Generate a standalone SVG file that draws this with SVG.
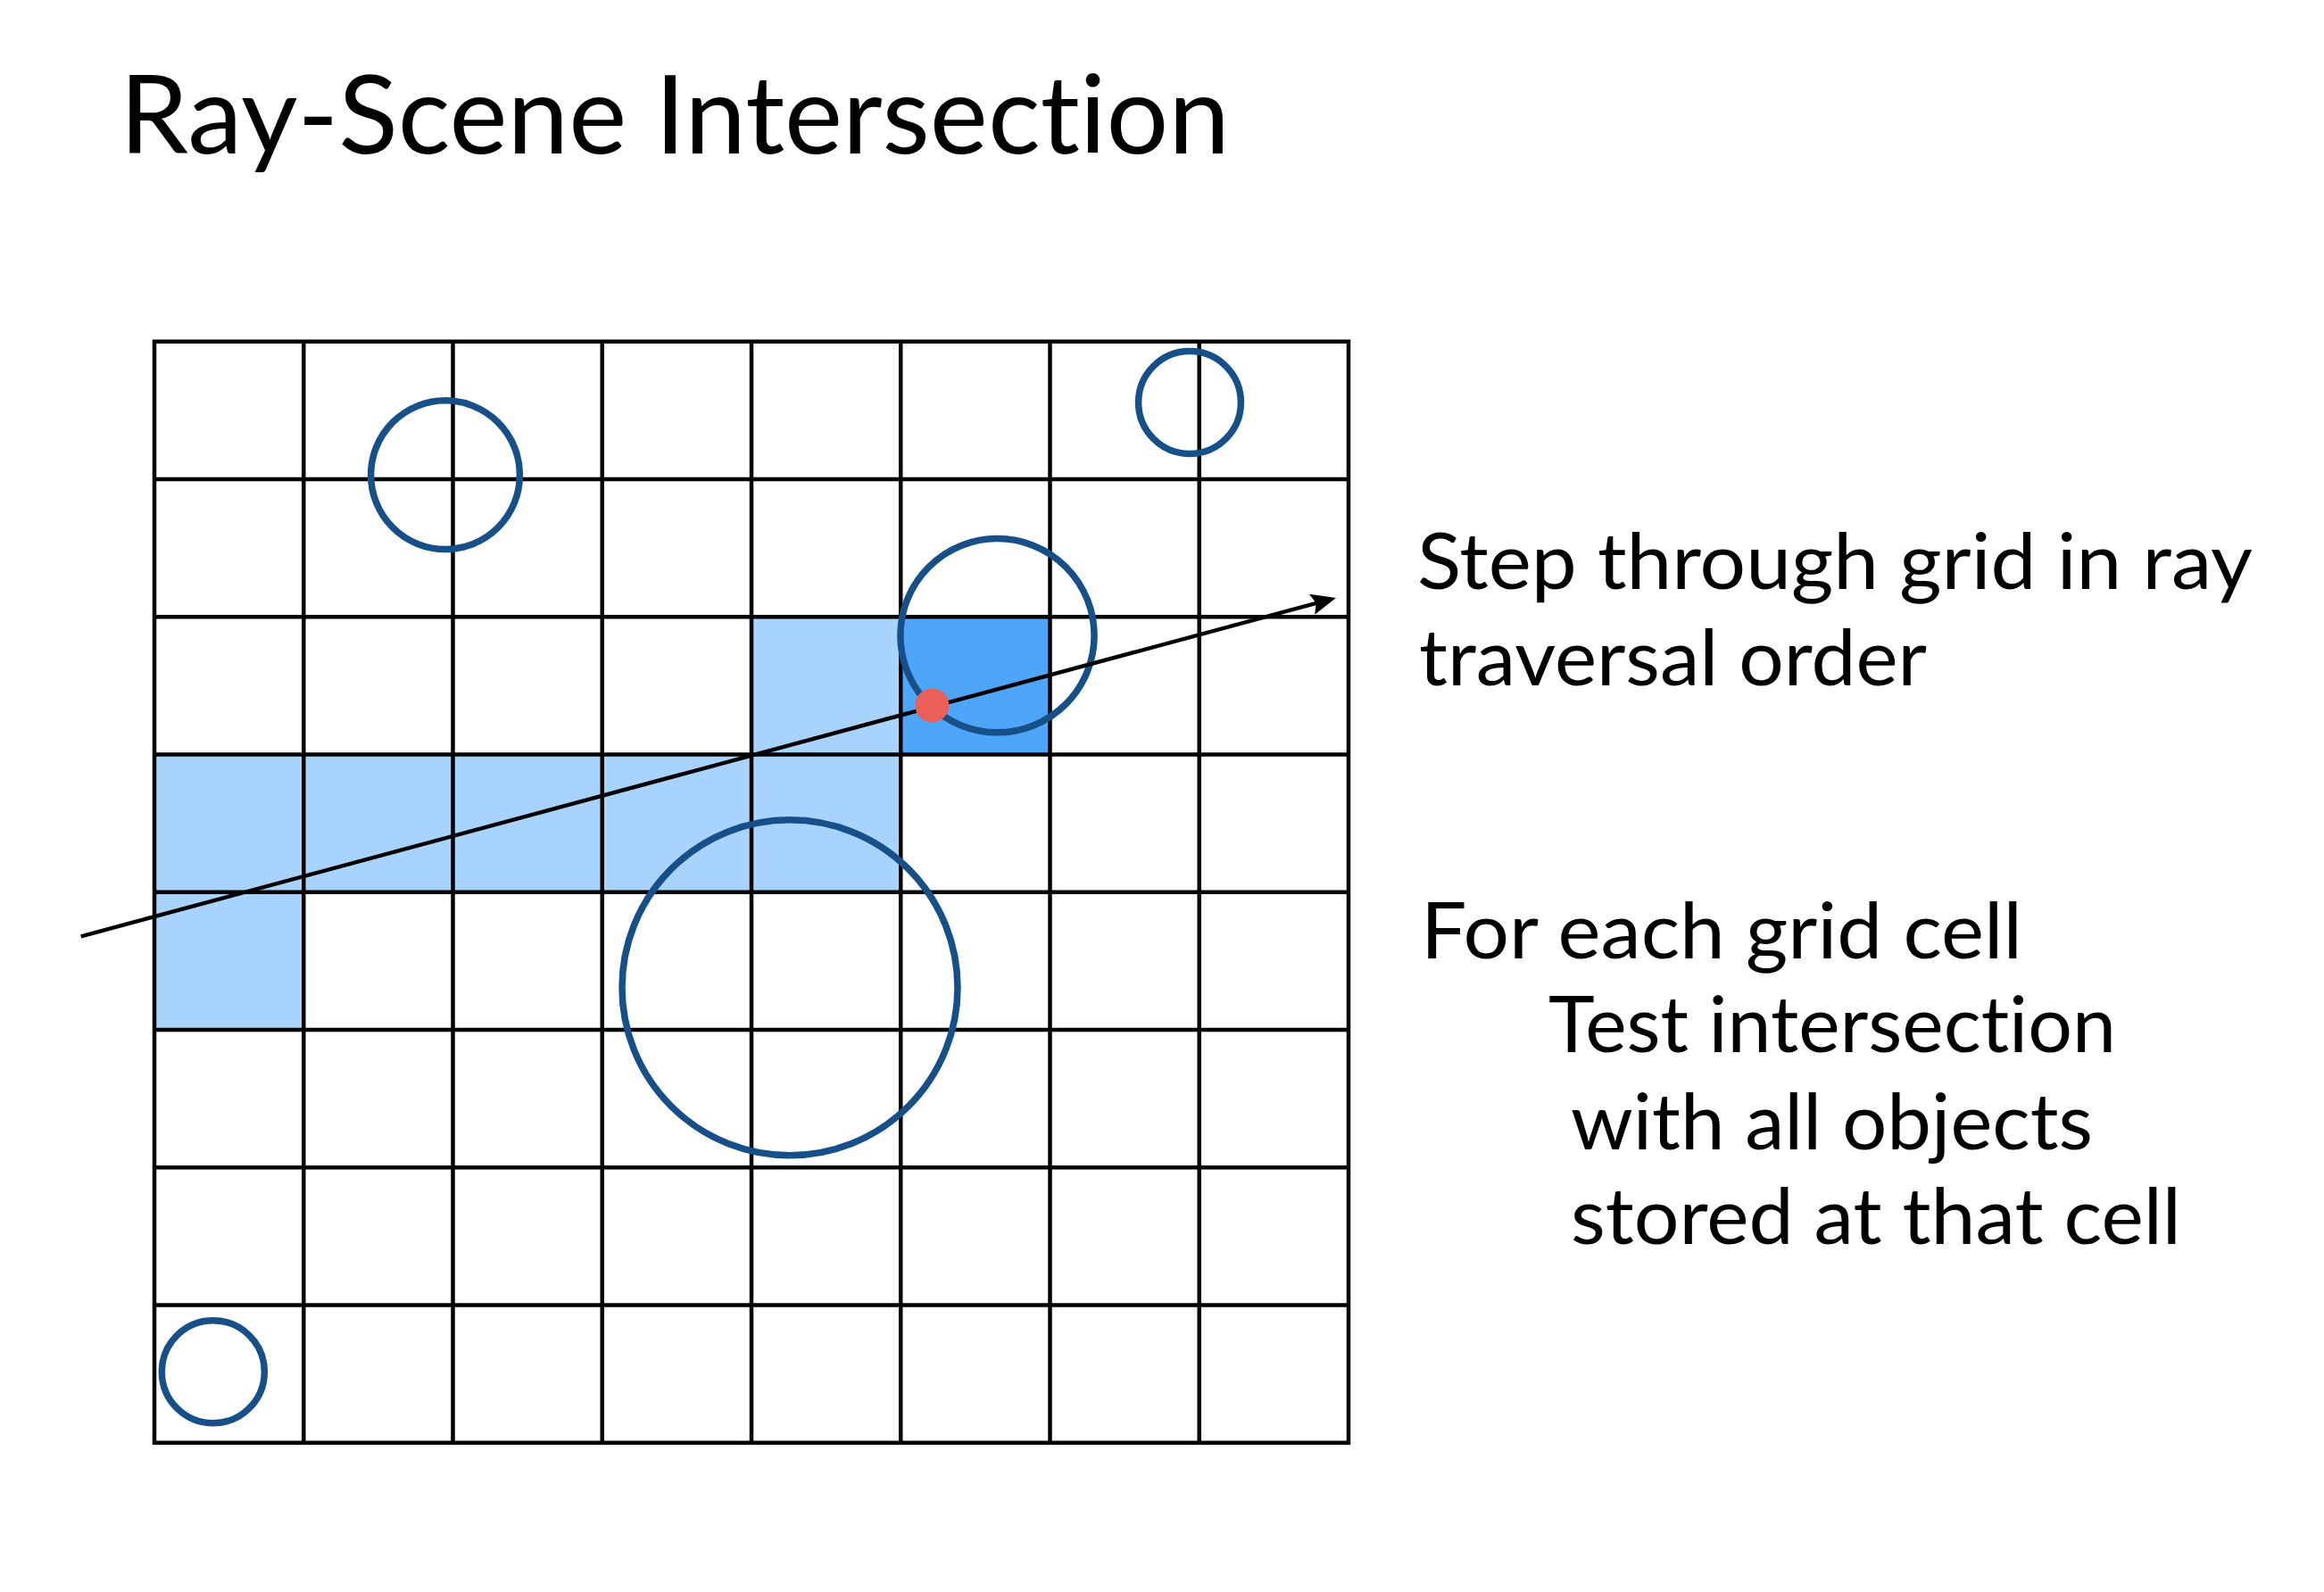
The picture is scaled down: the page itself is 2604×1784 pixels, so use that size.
<svg xmlns="http://www.w3.org/2000/svg" width="2604" height="1784" viewBox="0 0 2604 1784">
<style>
  .t { font-family: Lato, "Noto Sans", "Liberation Sans", sans-serif; fill: #000; font-variant-ligatures: none; font-feature-settings: "liga" 0, "clig" 0; }
  .title { font-size: 123px; }
  .body { font-size: 87px; }
  .light { fill: #A8D3FC; }
  .dark { fill: #4FA5F8; }
  .grid { fill: none; stroke: #000; stroke-width: 4.5; stroke-linecap: square; }
  .obj { fill: none; stroke: #175089; stroke-width: 7.5; }
  .ray { fill: none; stroke: #000; stroke-width: 4.5; }
</style>
<defs>
  <marker id="arrow" markerUnits="userSpaceOnUse" viewBox="0 0 28 24" markerWidth="28" markerHeight="24" refX="8" refY="12" orient="auto">
    <path d="M0,0 L28,12 L0,24 L5,12 Z" fill="#000"/>
  </marker>
</defs>
<rect width="2604" height="1784" fill="#fff"/>
<g id="title">
  <text class="t title" x="134" y="172" textLength="1244" lengthAdjust="spacingAndGlyphs">Ray-Scene Intersection</text>
</g>
<g id="cells">
  <rect class="light" x="842" y="691.3" width="167.25" height="154.25"/>
  <rect class="dark" x="1009.25" y="691.3" width="167.25" height="154.25"/>
  <rect class="light" x="173" y="845.55" width="836.25" height="154.25"/>
  <rect class="light" x="173" y="999.8" width="167.25" height="154.25"/>
</g>
<g id="grid">
  <path class="grid" d="M173,382.8V1616.8 M340.25,382.8V1616.8 M507.5,382.8V1616.8 M674.75,382.8V1616.8 M842,382.8V1616.8 M1009.25,382.8V1616.8 M1176.5,382.8V1616.8 M1343.75,382.8V1616.8 M1511,382.8V1616.8 M173,382.8H1511 M173,537.05H1511 M173,691.3H1511 M173,845.55H1511 M173,999.8H1511 M173,1154.05H1511 M173,1308.3H1511 M173,1462.55H1511 M173,1616.8H1511"/>
</g>
<g id="obj-1"><circle class="obj" cx="499" cy="532.2" r="83.4"/></g>
<g id="obj-2"><circle class="obj" cx="1333" cy="451" r="57.4"/></g>
<g id="obj-3"><circle class="obj" cx="1117.5" cy="712.2" r="108.6"/></g>
<g id="obj-4"><circle class="obj" cx="885" cy="1106.7" r="188"/></g>
<g id="obj-5"><circle class="obj" cx="238.8" cy="1537.2" r="57.5"/></g>
<g id="connectors">
  <line class="ray" x1="90.7" y1="1049.3" x2="1477.7" y2="675.2" marker-end="url(#arrow)"/>
</g>
<g id="hit">
  <circle cx="1044.3" cy="790.5" r="19" fill="#EA5F58"/>
</g>
<g id="labels">
  <text class="t body" x="1588" y="660" textLength="936" lengthAdjust="spacingAndGlyphs">Step through grid in ray</text>
  <text class="t body" x="1590" y="768" textLength="569" lengthAdjust="spacingAndGlyphs">traversal order</text>
  <text class="t body" x="1592" y="1074" textLength="674" lengthAdjust="spacingAndGlyphs">For each grid cell</text>
  <text class="t body" x="1735" y="1179" textLength="636" lengthAdjust="spacingAndGlyphs">Test intersection</text>
  <text class="t body" x="1760" y="1288" textLength="585" lengthAdjust="spacingAndGlyphs">with all objects</text>
  <text class="t body" x="1760" y="1394" textLength="684" lengthAdjust="spacingAndGlyphs">stored at that cell</text>
</g>
</svg>
